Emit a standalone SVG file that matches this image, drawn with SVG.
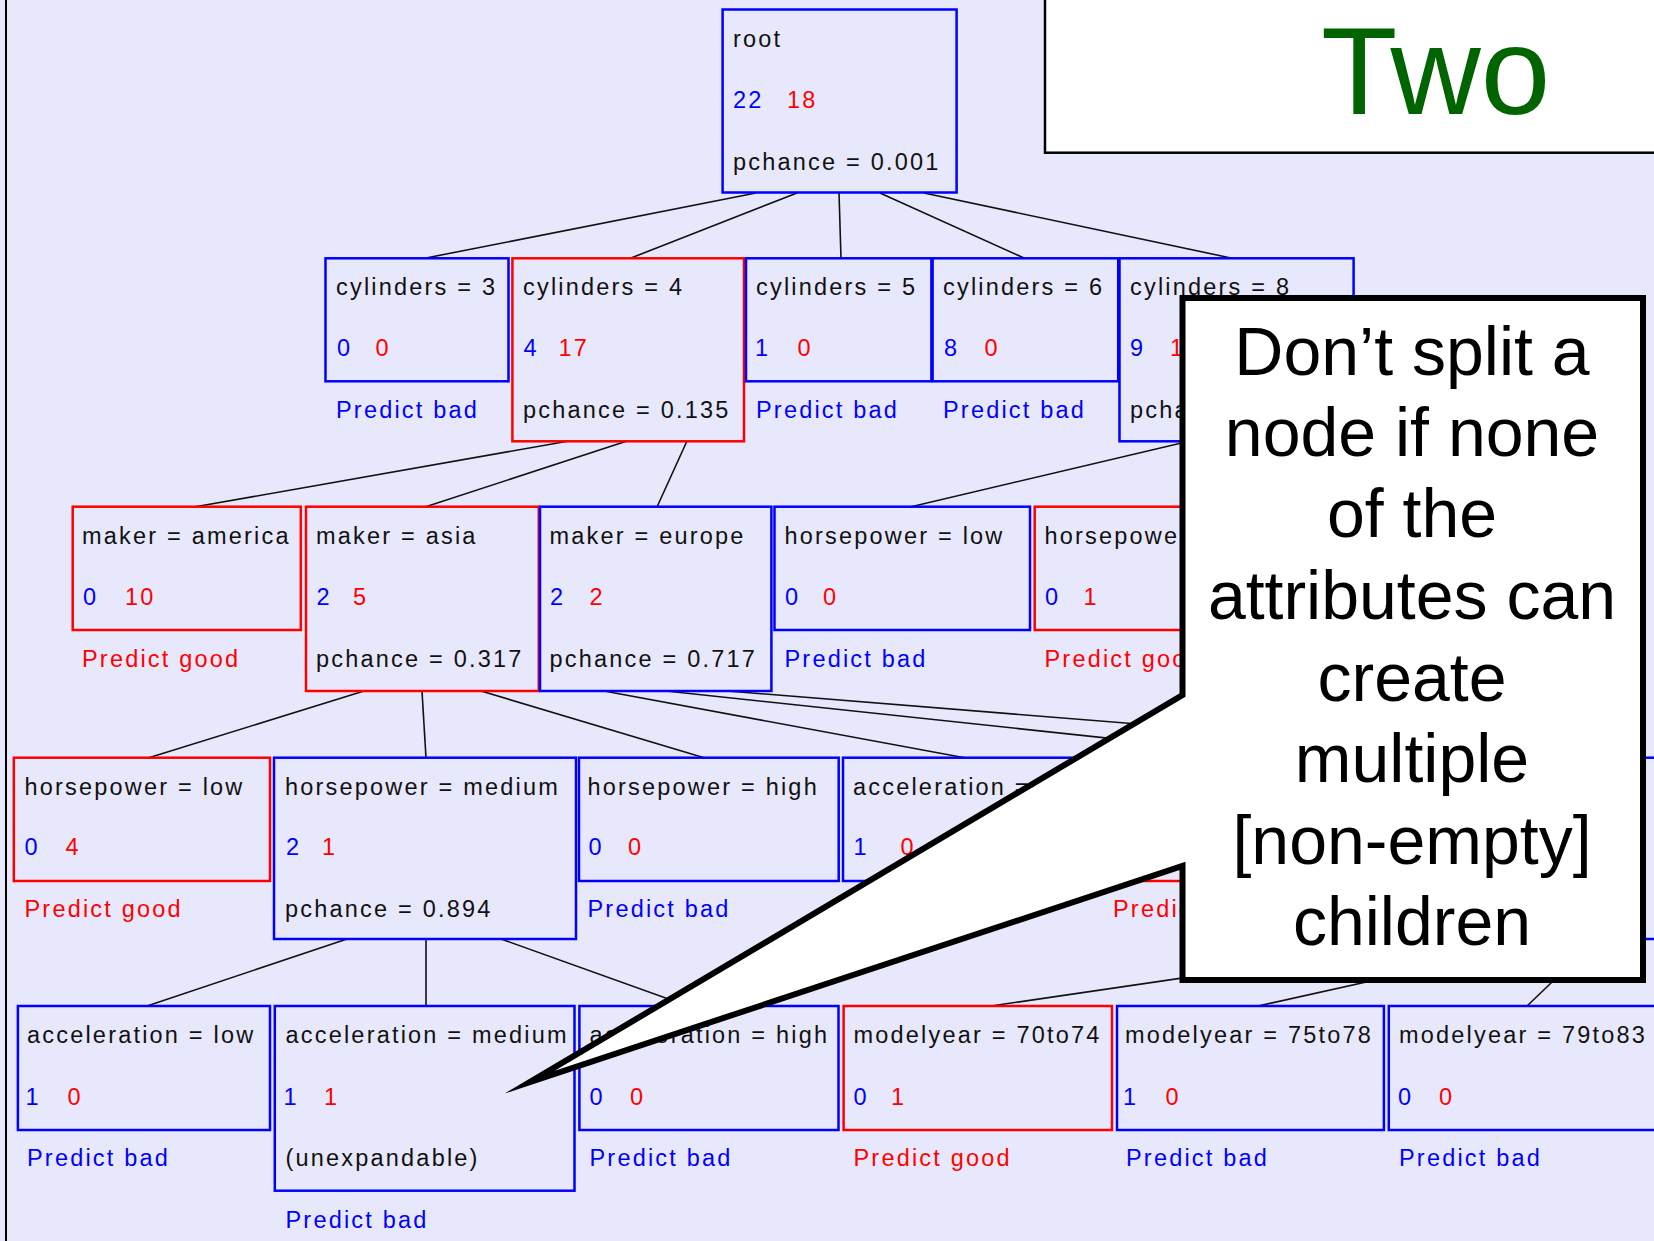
<svg xmlns="http://www.w3.org/2000/svg" width="1654" height="1241" viewBox="0 0 1654 1241">
  <style>
    .bg { fill: #E8E8FC; }
    .box { fill: none; stroke-width: 2.5; }
    .bb { stroke: #0000FF; }
    .rb { stroke: #FF0000; }
    .t { font-family: "Liberation Sans", Arial, sans-serif; font-size: 23.5px; letter-spacing: 2.2px; }
    .k { fill: #111111; }
    .b { fill: #0000FF; }
    .r { fill: #FF0000; }
    .edge { stroke: #111111; stroke-width: 1.6; fill: none; }
    .big { font-family: "Liberation Sans", Arial, sans-serif; }
  </style>

  <rect class="bg" x="0" y="0" width="1654" height="1241"/>
  <line x1="6" y1="0" x2="6" y2="1241" stroke="#000" stroke-width="2"/>

  <!-- tree edges: parent bottom edge to child top edge -->
  <g id="connectors" class="edge">
    <line x1="756" y1="193" x2="426" y2="258"/>
    <line x1="797" y1="193" x2="631" y2="258"/>
    <line x1="839" y1="193" x2="841" y2="258"/>
    <line x1="880" y1="193" x2="1024" y2="258"/>
    <line x1="924" y1="193" x2="1231" y2="258"/>

    <line x1="569" y1="441" x2="194" y2="507"/>
    <line x1="627" y1="441" x2="425" y2="507"/>
    <line x1="687" y1="441" x2="657" y2="507"/>
    <line x1="1190" y1="441" x2="910" y2="507"/>

    <line x1="364" y1="691" x2="148" y2="758"/>
    <line x1="422" y1="691" x2="426" y2="758"/>
    <line x1="481" y1="691" x2="705" y2="758"/>
    <line x1="604" y1="691" x2="966" y2="758"/>
    <line x1="666" y1="691" x2="1294" y2="758"/>
    <line x1="727" y1="691" x2="1562" y2="758"/>

    <line x1="347" y1="939" x2="147" y2="1006"/>
    <line x1="426" y1="939" x2="426" y2="1006"/>
    <line x1="501" y1="939" x2="688" y2="1006"/>
    <line x1="1449" y1="939" x2="991" y2="1006"/>
    <line x1="1560" y1="939" x2="1258" y2="1006"/>
    <line x1="1597" y1="939" x2="1527" y2="1006"/>
  </g>

  <!-- level 0 -->
  <g id="n-root">
    <rect class="box bb" x="722.6" y="9.5" width="234" height="183"/>
    <text class="t k" x="733" y="46.5">root</text>
    <text class="t b" x="733" y="107.5">22</text>
    <text class="t r" x="787" y="107.5">18</text>
    <text class="t k" x="733" y="169.5">pchance = 0.001</text>
  </g>

  <!-- level 1 -->
  <g id="n-cyl3">
    <rect class="box bb" x="325.5" y="258.3" width="183" height="123"/>
    <text class="t k" x="336" y="295.3">cylinders = 3</text>
    <text class="t b" x="337" y="356.3">0</text>
    <text class="t r" x="375.5" y="356.3">0</text>
    <text class="t b" x="336" y="418.3">Predict bad</text>
  </g>
  <g id="n-cyl4">
    <rect class="box rb" x="512.4" y="258.3" width="231.6" height="183"/>
    <text class="t k" x="523" y="295.3">cylinders = 4</text>
    <text class="t b" x="523.5" y="356.3">4</text>
    <text class="t r" x="558.5" y="356.3">17</text>
    <text class="t k" x="523" y="418.3">pchance = 0.135</text>
  </g>
  <g id="n-cyl5">
    <rect class="box bb" x="746" y="258.3" width="185.4" height="123"/>
    <text class="t k" x="756" y="295.3">cylinders = 5</text>
    <text class="t b" x="755" y="356.3">1</text>
    <text class="t r" x="797.5" y="356.3">0</text>
    <text class="t b" x="756" y="418.3">Predict bad</text>
  </g>
  <g id="n-cyl6">
    <rect class="box bb" x="932.6" y="258.3" width="185.6" height="123"/>
    <text class="t k" x="943" y="295.3">cylinders = 6</text>
    <text class="t b" x="944" y="356.3">8</text>
    <text class="t r" x="984.5" y="356.3">0</text>
    <text class="t b" x="943" y="418.3">Predict bad</text>
  </g>
  <g id="n-cyl8">
    <rect class="box bb" x="1119.5" y="258.3" width="234.1" height="183"/>
    <text class="t k" x="1130" y="295.3">cylinders = 8</text>
    <text class="t b" x="1130" y="356.3">9</text>
    <text class="t r" x="1170" y="356.3">1</text>
    <text class="t k" x="1130" y="418.3">pchance</text>
  </g>

  <!-- level 2 -->
  <g id="n-america">
    <rect class="box rb" x="72.7" y="506.7" width="228.1" height="123.3"/>
    <text class="t k" x="82" y="543.7">maker = america</text>
    <text class="t b" x="83" y="604.7">0</text>
    <text class="t r" x="125" y="604.7">10</text>
    <text class="t r" x="82" y="666.7">Predict good</text>
  </g>
  <g id="n-asia">
    <rect class="box rb" x="306" y="506.7" width="232.8" height="184.3"/>
    <text class="t k" x="316" y="543.7">maker = asia</text>
    <text class="t b" x="316.5" y="604.7">2</text>
    <text class="t r" x="353" y="604.7">5</text>
    <text class="t k" x="316" y="666.7">pchance = 0.317</text>
  </g>
  <g id="n-europe">
    <rect class="box bb" x="540" y="506.7" width="231.4" height="184.3"/>
    <text class="t k" x="549.5" y="543.7">maker = europe</text>
    <text class="t b" x="550" y="604.7">2</text>
    <text class="t r" x="589.5" y="604.7">2</text>
    <text class="t k" x="549.5" y="666.7">pchance = 0.717</text>
  </g>
  <g id="n-hp-low-a">
    <rect class="box bb" x="774.5" y="506.7" width="255.5" height="123.3"/>
    <text class="t k" x="784.5" y="543.7">horsepower = low</text>
    <text class="t b" x="785" y="604.7">0</text>
    <text class="t r" x="823" y="604.7">0</text>
    <text class="t b" x="784.5" y="666.7">Predict bad</text>
  </g>
  <g id="n-hp-b">
    <rect class="box rb" x="1034.7" y="506.7" width="255.3" height="123.3"/>
    <text class="t k" x="1044.5" y="543.7">horsepower</text>
    <text class="t b" x="1045" y="604.7">0</text>
    <text class="t r" x="1083.5" y="604.7">1</text>
    <text class="t r" x="1044.5" y="666.7">Predict good</text>
  </g>

  <!-- level 3 -->
  <g id="n-hp-low-b">
    <rect class="box rb" x="13.8" y="757.7" width="256.2" height="123.3"/>
    <text class="t k" x="24.5" y="794.7">horsepower = low</text>
    <text class="t b" x="24.5" y="855.2">0</text>
    <text class="t r" x="65.5" y="855.2">4</text>
    <text class="t r" x="24.5" y="916.7">Predict good</text>
  </g>
  <g id="n-hp-medium">
    <rect class="box bb" x="274" y="757.7" width="302" height="181.3"/>
    <text class="t k" x="285" y="794.7">horsepower = medium</text>
    <text class="t b" x="286" y="855.2">2</text>
    <text class="t r" x="322" y="855.2">1</text>
    <text class="t k" x="285" y="916.7">pchance = 0.894</text>
  </g>
  <g id="n-hp-high">
    <rect class="box bb" x="579" y="757.7" width="259.7" height="123.3"/>
    <text class="t k" x="587.5" y="794.7">horsepower = high</text>
    <text class="t b" x="588.5" y="855.2">0</text>
    <text class="t r" x="628" y="855.2">0</text>
    <text class="t b" x="587.5" y="916.7">Predict bad</text>
  </g>
  <g id="n-accel-a">
    <rect class="box bb" x="843" y="757.7" width="257" height="123.3"/>
    <text class="t k" x="853" y="794.7">acceleration =</text>
    <text class="t b" x="853.5" y="855.2">1</text>
    <text class="t r" x="900.5" y="855.2">0</text>
  </g>
  <g id="n-level3-red">
    <rect class="box rb" x="1104" y="757.7" width="322" height="123.3"/>
    <text class="t r" x="1113" y="916.7">Predict good</text>
  </g>
  <g id="n-level3-right">
    <rect class="box bb" x="1430" y="757.7" width="300" height="181.3"/>
  </g>

  <!-- level 4 -->
  <g id="n-acc-low">
    <rect class="box bb" x="17.9" y="1006" width="252.1" height="124"/>
    <text class="t k" x="27" y="1043">acceleration = low</text>
    <text class="t b" x="25.5" y="1104.5">1</text>
    <text class="t r" x="67.5" y="1104.5">0</text>
    <text class="t b" x="27" y="1166">Predict bad</text>
  </g>
  <g id="n-acc-medium">
    <rect class="box bb" x="274.8" y="1006" width="299.7" height="184.7"/>
    <text class="t k" x="285.5" y="1043">acceleration = medium</text>
    <text class="t b" x="283.5" y="1104.5">1</text>
    <text class="t r" x="324" y="1104.5">1</text>
    <text class="t k" x="285.5" y="1166">(unexpandable)</text>
    <text class="t b" x="285.5" y="1228">Predict bad</text>
  </g>
  <g id="n-acc-high">
    <rect class="box bb" x="579.4" y="1006" width="259.1" height="124"/>
    <text class="t k" x="589.5" y="1043">acceleration = high</text>
    <text class="t b" x="589.5" y="1104.5">0</text>
    <text class="t r" x="630" y="1104.5">0</text>
    <text class="t b" x="589.5" y="1166">Predict bad</text>
  </g>
  <g id="n-my-70to74">
    <rect class="box rb" x="843.6" y="1006" width="268.4" height="124"/>
    <text class="t k" x="853.5" y="1043">modelyear = 70to74</text>
    <text class="t b" x="853.5" y="1104.5">0</text>
    <text class="t r" x="891" y="1104.5">1</text>
    <text class="t r" x="853.5" y="1166">Predict good</text>
  </g>
  <g id="n-my-75to78">
    <rect class="box bb" x="1117" y="1006" width="266.9" height="124"/>
    <text class="t k" x="1125" y="1043">modelyear = 75to78</text>
    <text class="t b" x="1123" y="1104.5">1</text>
    <text class="t r" x="1165.5" y="1104.5">0</text>
    <text class="t b" x="1126" y="1166">Predict bad</text>
  </g>
  <g id="n-my-79to83">
    <rect class="box bb" x="1388.8" y="1006" width="320" height="124"/>
    <text class="t k" x="1399" y="1043">modelyear = 79to83</text>
    <text class="t b" x="1398" y="1104.5">0</text>
    <text class="t r" x="1439" y="1104.5">0</text>
    <text class="t b" x="1399" y="1166">Predict bad</text>
  </g>

  <!-- title panel -->
  <g id="title">
    <rect x="1045" y="-10" width="700" height="162.7" fill="#FFFFFF" stroke="#000" stroke-width="2.5"/>
    <text class="big" x="1321" y="113.5" font-size="125" fill="#006400">Two</text>
  </g>

  <!-- speech-bubble note pointing at the unexpandable node -->
  <g id="callout">
    <path d="M1182.5,298 H1643 V980 H1182.5 V866 L530,1082 L1182.5,695 Z" fill="#FFFFFF" stroke="#000" stroke-width="6" stroke-linejoin="miter" stroke-miterlimit="12"/>
    <g class="big" font-size="68" fill="#000" text-anchor="middle">
      <text x="1412" y="375">Don’t split a</text>
      <text x="1412" y="456">node if none</text>
      <text x="1412" y="537">of the</text>
      <text x="1412" y="619">attributes can</text>
      <text x="1412" y="701">create</text>
      <text x="1412" y="782">multiple</text>
      <text x="1412" y="864">[non-empty]</text>
      <text x="1412" y="945">children</text>
    </g>
  </g>
</svg>
